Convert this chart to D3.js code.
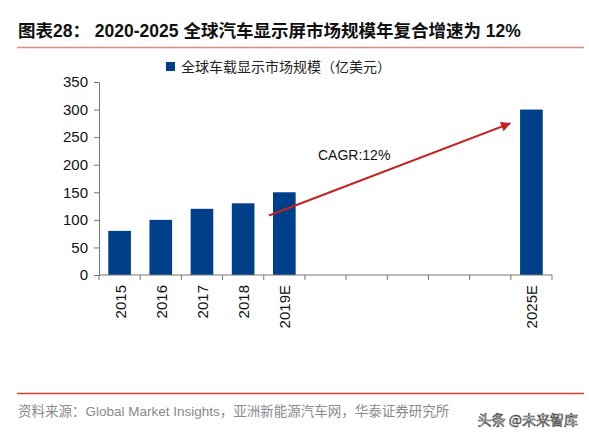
<!DOCTYPE html>
<html><head><meta charset="utf-8">
<script src="https://cdn.jsdelivr.net/npm/d3@7"></script>
<style>body{margin:0;background:#fff;font-family:Arial,"Liberation Sans","Noto Sans CJK SC",sans-serif}</style>
</head><body><svg width="589" height="439"></svg>
<script>
const categories = ["2015","2016","2017","2018","2019E","g1","g2","g3","g4","g5","2025E"];
const values = [80,100,120,130,150,null,null,null,null,null,300];
const yTicks = [0,50,100,150,200,250,300,350];

const svg = d3.select("svg");
const cjk = "'Noto Sans CJK SC',sans-serif";

svg.append("text").attr("x",18).attr("y",37).attr("font-size",17.5).attr("font-weight","bold")
  .attr("font-family","Arial,'Liberation Sans','Noto Sans CJK SC'").attr("fill","#111")
  .text("图表28：  2020-2025 全球汽车显示屏市场规模年复合增速为 12%");
svg.append("line").attr("x1",17).attr("x2",584).attr("y1",47.5).attr("y2",47.5)
  .attr("stroke","#d98b80").attr("stroke-width",1.5);

const x = d3.scaleBand().domain(categories).range([99,552]).paddingInner(0.45).paddingOuter(0.225);
const y = d3.scaleLinear().domain([0,350]).range([275,82]);

svg.append("rect").attr("x",166).attr("y",62).attr("width",9).attr("height",9).attr("fill","#003f8a");
svg.append("text").attr("x",181).attr("y",72).attr("font-size",14).attr("font-family",cjk).attr("fill","#222")
  .text("全球车载显示市场规模（亿美元）");

svg.selectAll(".bar").data(categories.map((c,i)=>({c,v:values[i]})).filter(d=>d.v!=null))
  .enter().append("rect")
  .attr("x",d=>x(d.c)).attr("width",x.bandwidth())
  .attr("y",d=>y(d.v)).attr("height",d=>y(0)-y(d.v)).attr("fill","#003f8a");

const ya = svg.append("g").attr("transform","translate(99,0)")
  .call(d3.axisLeft(y).tickValues(yTicks).tickSize(5).tickPadding(6));
ya.selectAll("text").attr("font-size",15).attr("font-family","Arial,'Liberation Sans'").attr("fill","#111");
ya.selectAll("line,path").attr("stroke","#777");

const step = x.step();
const xa = svg.append("g").attr("transform","translate(0,275)");
xa.append("line").attr("x1",99).attr("x2",552).attr("stroke","#777");
xa.selectAll(".t").data(d3.range(categories.length+1)).enter().append("line")
  .attr("x1",i=>99+i*step).attr("x2",i=>99+i*step).attr("y1",0).attr("y2",5).attr("stroke","#777");
xa.selectAll(".l").data(categories.filter(c=>!c.startsWith("g"))).enter().append("text")
  .attr("transform",c=>`translate(${x(c)+x.bandwidth()/2+6},${10}) rotate(-90)`)
  .attr("text-anchor","end").attr("font-size",15).attr("font-family","Arial,'Liberation Sans'").attr("fill","#111")
  .text(c=>c);

svg.append("defs").append("marker").attr("id","ah").attr("viewBox","0 0 10 10").attr("refX",9).attr("refY",5)
  .attr("markerWidth",5).attr("markerHeight",5).attr("orient","auto")
  .append("path").attr("d","M0,0L10,5L0,10z").attr("fill","#c8201e");
svg.append("line").attr("x1",x("2019E")-4).attr("y1",y(108)).attr("x2",x("2025E")-10).attr("y2",y(275))
  .attr("stroke","#c8201e").attr("stroke-width",2).attr("marker-end","url(#ah)");
svg.append("text").attr("x",318).attr("y",160).attr("font-size",14).attr("font-family","Arial,'Liberation Sans'")
  .attr("fill","#111").text("CAGR:12%");

svg.append("line").attr("x1",17).attr("x2",584).attr("y1",393.5).attr("y2",393.5).attr("stroke","#e03a2f").attr("stroke-width",1.5);
svg.append("text").attr("x",18).attr("y",416).attr("font-size",13.5).attr("font-family","Arial,'Liberation Sans','Noto Sans CJK SC'")
  .attr("fill","#8a8a8a").text("资料来源：Global Market Insights，亚洲新能源汽车网，华泰证券研究所");
svg.append("text").attr("x",578).attr("y",425).attr("text-anchor","end").attr("font-size",14).attr("font-family",cjk)
  .attr("fill","#fff").attr("stroke","#333").attr("stroke-width",0.6).text("头条 @未来智库");
</script></body></html>
